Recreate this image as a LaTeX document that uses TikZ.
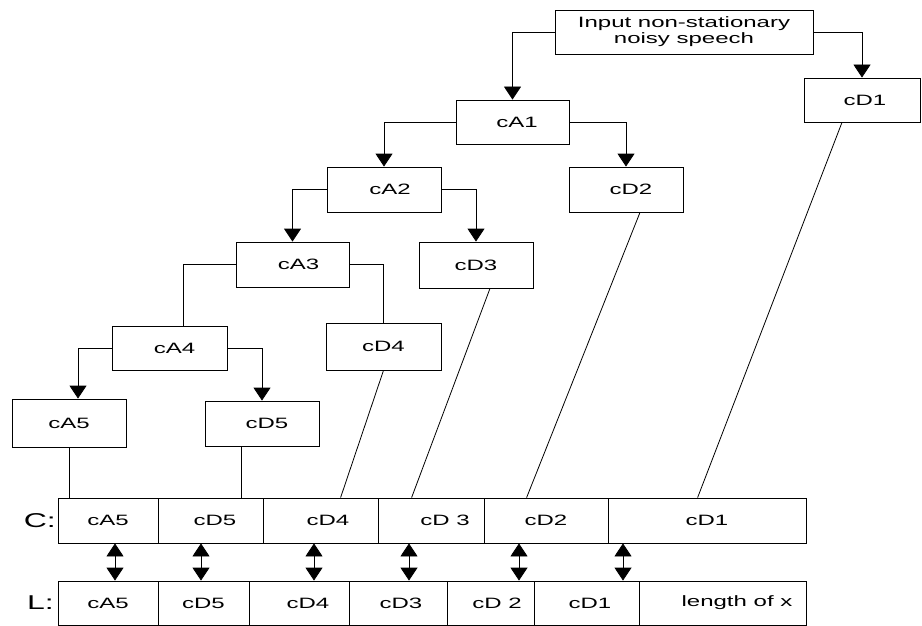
\documentclass[tikz,border=0pt]{standalone}
\usepackage{fontspec}
\setmainfont[FakeStretch=1.6]{Liberation Sans}
\usetikzlibrary{arrows.meta}
\begin{document}
\begin{tikzpicture}[x=1pt,y=-1pt,
  box/.style={draw=black, line width=0.8pt, minimum width=114pt, minimum height=45pt, inner sep=0pt, font=\fontsize{15}{16}\selectfont},
  cell/.style={draw=black, line width=0.8pt, minimum height=45pt, inner sep=0pt, font=\fontsize{15}{16}\selectfont},
  conn/.style={line width=0.8pt},
  arr/.style={line width=0.8pt, -{Triangle[width=17pt,length=13pt]}},
  darr/.style={line width=0.8pt, {Triangle[width=17pt,length=13pt]}-{Triangle[width=17pt,length=13pt]}},
  rowlabel/.style={font=\fontsize{20}{22}\selectfont, inner sep=0pt, anchor=east}]
\useasboundingbox (0,0) rectangle (922,626);

% tree boxes
\node[box, minimum width=258pt, minimum height=44pt, align=center] (in) at (684,32) {Input non-stationary\\noisy speech};
\node[box, minimum width=116pt, minimum height=44pt] (cD1) at (862,100) {\hspace{6pt}cD1};
\node[box, minimum width=113pt, minimum height=44pt] (cA1) at (512.5,122) {\hspace{9pt}cA1};
\node[box] (cA2) at (384,189.5) {\hspace{12pt}cA2};
\node[box] (cD2) at (626,189.5) {\hspace{10pt}cD2};
\node[box, minimum width=113pt] (cA3) at (292.5,264.5) {\hspace{12pt}cA3};
\node[box, minimum height=46pt] (cD3) at (476,265) {cD3};
\node[box, minimum width=115pt, minimum height=44pt] (cA4) at (169.5,348) {\hspace{10pt}cA4};
\node[box, minimum width=115pt, minimum height=47pt] (cD4) at (383.5,346.5) {cD4};
\node[box, minimum height=48pt] (cA5) at (69,423) {cA5};
\node[box] (cD5) at (262,423.5) {\hspace{10pt}cD5};

% tree connectors
\draw[arr] (in.west) -| (cA1.north);
\draw[arr] (in.east) -| (cD1.north);
\draw[arr] (cA1.west) -| (cA2.north);
\draw[arr] (cA1.east) -| (cD2.north);
\draw[arr] (cA2.west) -| (cA3.north);
\draw[arr] (cA2.east) -| (cD3.north);
\draw[conn] (cA3.west) -| ([xshift=13.5pt]cA4.north);
\draw[conn] (cA3.east) -| (cD4.north);
\draw[arr] (cA4.west) -| ([xshift=9pt]cA5.north);
\draw[arr] (cA4.east) -| (cD5.north);

% C row
\node[rowlabel] (Clab) at (56,521) {C:};
\node[cell, minimum width=100pt] (c1) at (108,520.5) {cA5\hspace{14pt}};
\node[cell, minimum width=105pt] (c2) at (210.5,520.5) {\hspace{9pt}cD5};
\node[cell, minimum width=115pt] (c3) at (320.5,520.5) {\hspace{15pt}cD4};
\node[cell, minimum width=106pt] (c4) at (431,520.5) {\hspace{28pt}cD 3};
\node[cell, minimum width=124pt] (c5) at (546,520.5) {cD2\hspace{10pt}};
\node[cell, minimum width=198pt] (c6) at (707,520.5) {cD1\hspace{54pt}};

% L row
\node[rowlabel] (Llab) at (54,603) {L:};
\node[cell, minimum width=100pt, minimum height=44pt] (l1) at (108,603) {cA5\hspace{16pt}};
\node[cell, minimum width=91pt, minimum height=44pt] (l2) at (203.5,603) {cD5\hspace{21pt}};
\node[cell, minimum width=100pt, minimum height=44pt] (l3) at (299,603) {\hspace{18pt}cD4};
\node[cell, minimum width=98pt, minimum height=44pt] (l4) at (398,603) {\hspace{6pt}cD3};
\node[cell, minimum width=87pt, minimum height=44pt] (l5) at (490.5,603) {\hspace{13pt}cD 2};
\node[cell, minimum width=105pt, minimum height=44pt] (l6) at (586.5,603) {\hspace{7pt}cD1};
\node[cell, minimum width=167pt, minimum height=44pt] (l7) at (722.5,603) {\hspace{29pt}length of x};

% connectors from tree to C row
\draw[conn] (cA5.south) -- (cA5.south |- c1.north);
\coordinate (p5) at ([xshift=-21pt]cD5.south);
\draw[conn] (p5) -- (p5 |- c2.north);
\draw[conn] (cD4.south) -- ([xshift=78pt]c3.north west);
\draw[conn] ([xshift=14pt]cD3.south) -- ([xshift=34pt]c4.north west);
\draw[conn] ([xshift=14pt]cD2.south) -- ([xshift=43pt]c5.north west);
\draw[conn] ([xshift=-20pt]cD1.south) -- ([xshift=90pt]c6.north west);

% double arrows between C and L
\coordinate (a1) at ([xshift=7pt]c1.south);
\coordinate (a2) at ([xshift=-9.5pt]c2.south);
\coordinate (a3) at ([xshift=-6.5pt]c3.south);
\coordinate (a4) at ([xshift=-22pt]c4.south);
\coordinate (a5) at ([xshift=-27pt]c5.south);
\coordinate (a6) at ([xshift=-84pt]c6.south);
\draw[darr] (a1) -- (a1 |- l1.north);
\draw[darr] (a2) -- (a2 |- l2.north);
\draw[darr] (a3) -- (a3 |- l3.north);
\draw[darr] (a4) -- (a4 |- l4.north);
\draw[darr] (a5) -- (a5 |- l5.north);
\draw[darr] (a6) -- (a6 |- l6.north);
\end{tikzpicture}
\end{document}
